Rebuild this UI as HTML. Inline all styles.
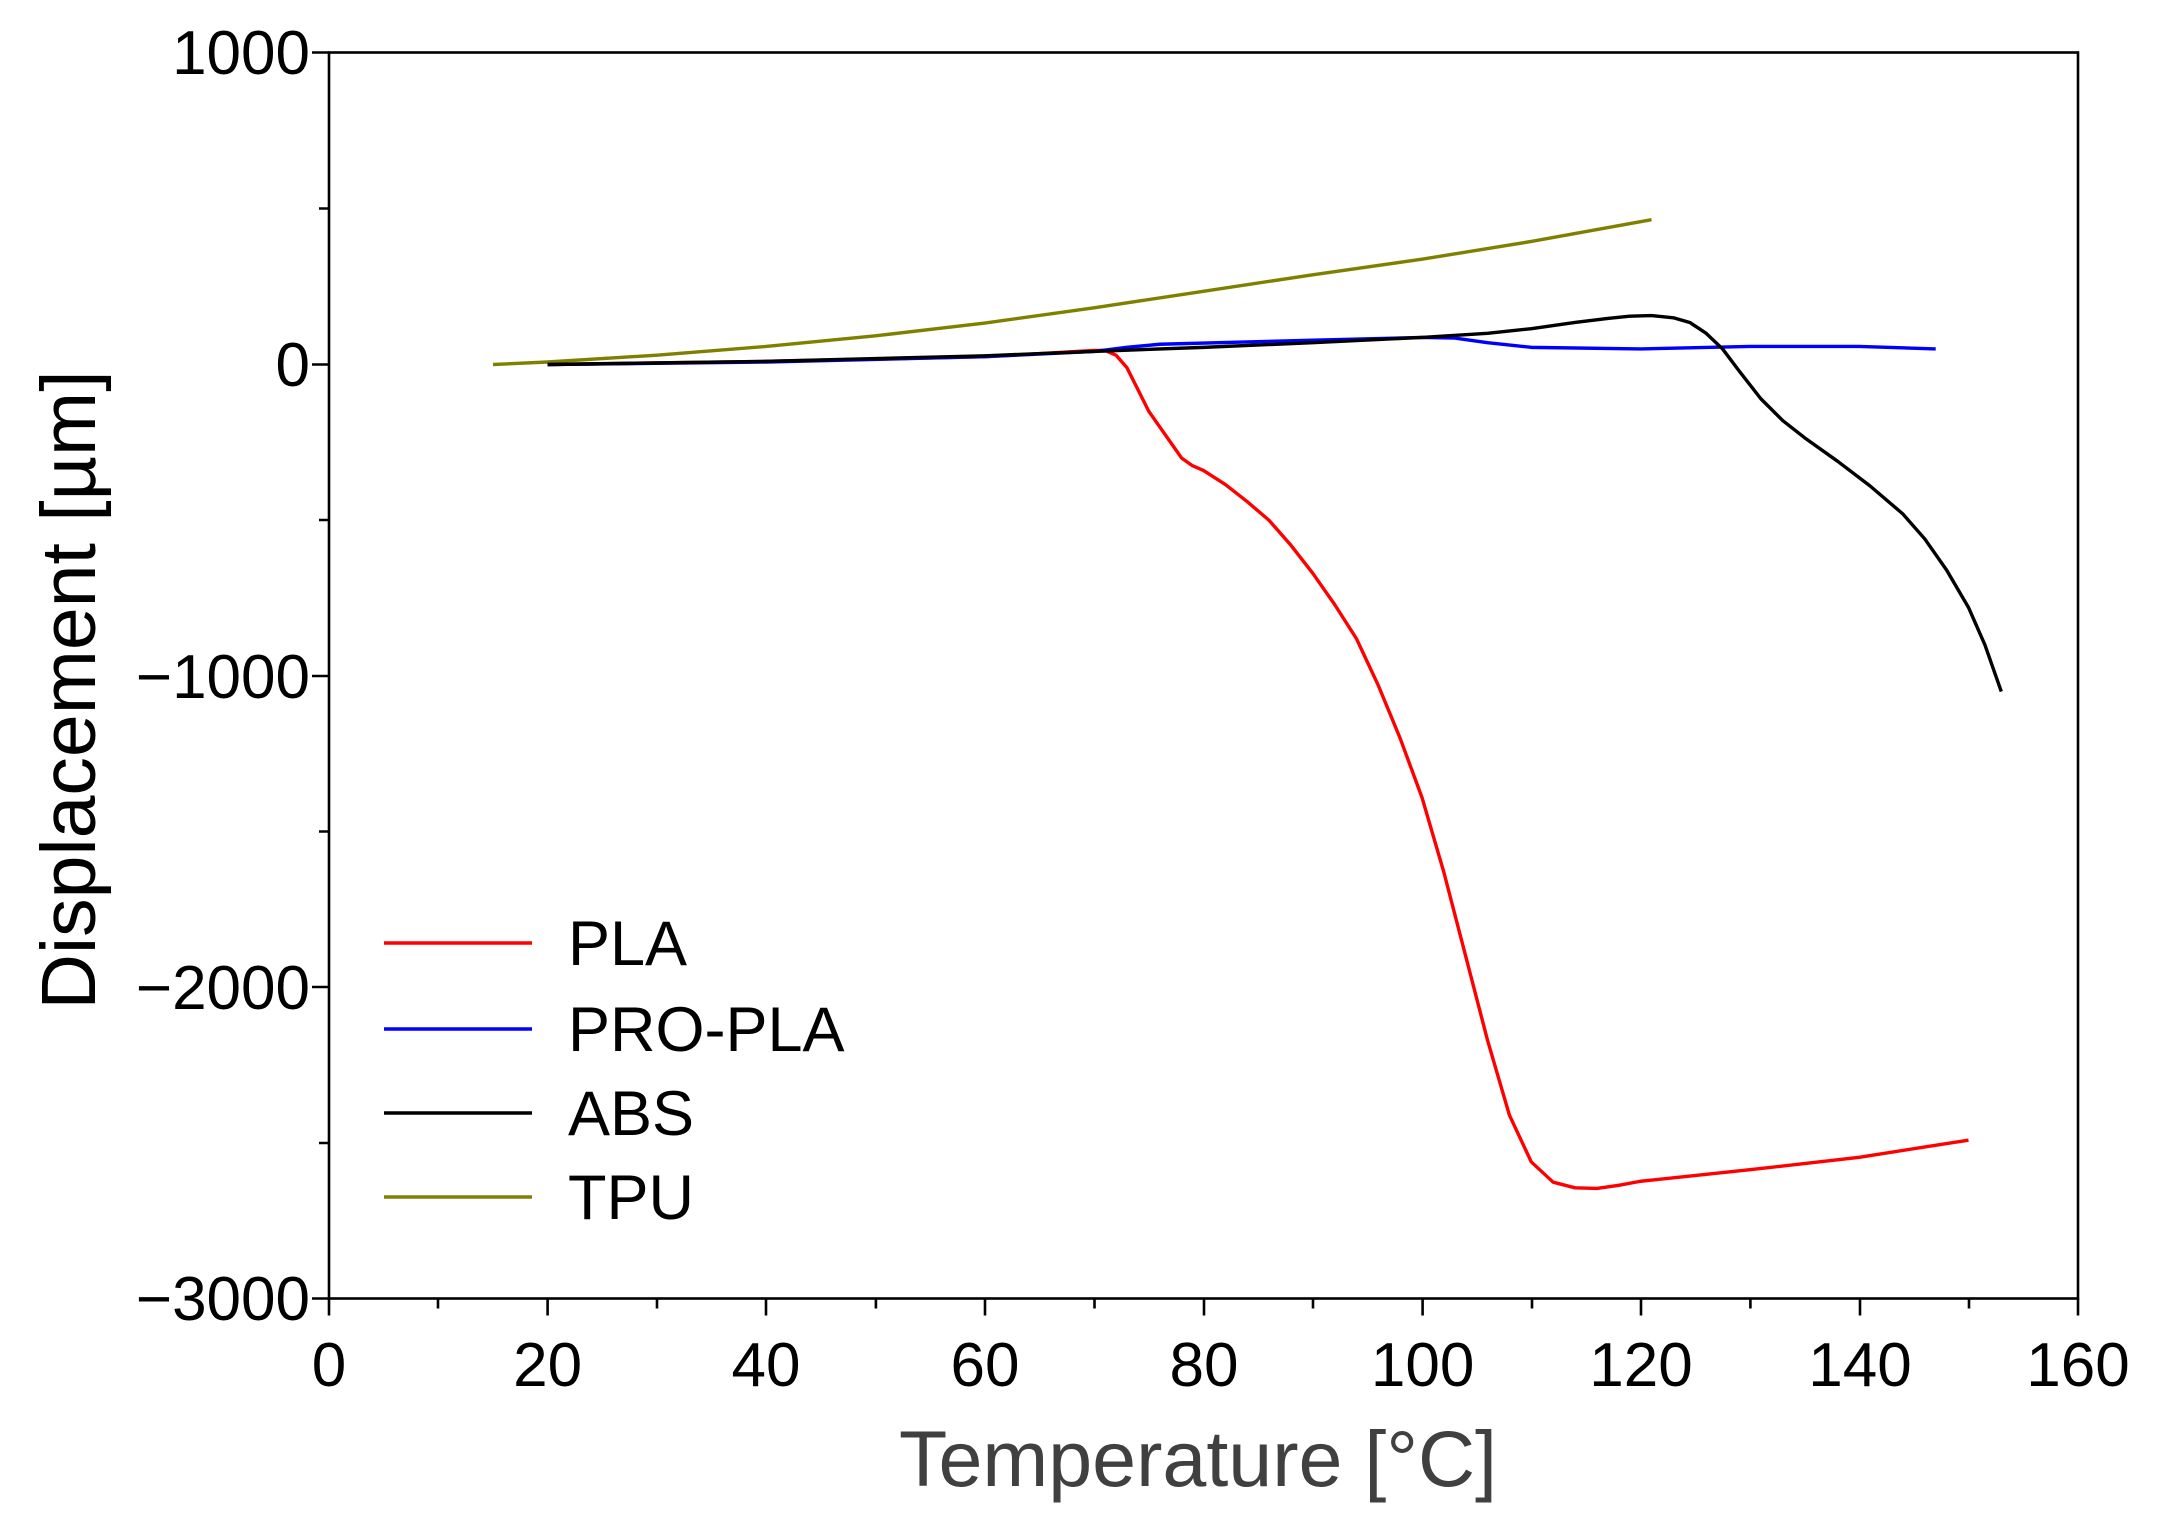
<!DOCTYPE html>
<html><head><style>html,body{margin:0;padding:0;background:#fff}</style></head><body>
<svg width="2165" height="1528" viewBox="0 0 2165 1528" xmlns="http://www.w3.org/2000/svg" font-family="Liberation Sans, Arial, sans-serif">
<rect width="2165" height="1528" fill="#fff"/>
<g transform="translate(329,364.5) scale(10.93,-0.3115)" fill="none" stroke-width="3.4" stroke-linejoin="round">
<polyline vector-effect="non-scaling-stroke" stroke="#808000" points="15,0 20,8 30,30 40,58 50,92 60,133 70,182 80,235 90,288 100,338 110,395 121,465"/>
<polyline vector-effect="non-scaling-stroke" stroke="#ff0000" points="20,0 40,10 60,25 70,45 71,45 72,30 73,-10 74,-80 75,-150 76,-200 77,-250 78,-300 79,-325 80,-340 82,-385 84,-440 86,-500 88,-580 90,-670 92,-770 94,-880 96,-1030 98,-1200 100,-1390 102,-1630 104,-1900 106,-2170 108,-2410 110,-2560 112,-2625 114,-2643 116,-2645 118,-2635 120,-2622 130,-2585 140,-2545 150,-2490"/>
<polyline vector-effect="non-scaling-stroke" stroke="#0000ff" points="20,0 40,8 60,25 70,42 73,55 76,65 90,78 100,87 103,85 106,70 110,55 120,50 130,58 140,58 147,50"/>
<polyline vector-effect="non-scaling-stroke" stroke="#000000" points="20,0 40,10 60,28 70,42 80,55 90,70 100,87 106,100 110,115 114,135 117,148 119,155 121,157 123,150 124.5,135 126,100 127.5,50 129,-20 131,-110 133,-180 135,-235 138,-310 141,-390 144,-480 146,-560 148,-660 150,-780 151.5,-900 153,-1050"/>
</g>
<g stroke="#000" stroke-width="2.6" fill="none">
<rect x="329" y="52.5" width="1749" height="1246"/>
<path d="M329,1298.5v17 M438,1298.5v10 M547.6,1298.5v17 M657,1298.5v10 M766,1298.5v17 M875.9,1298.5v10 M985,1298.5v17 M1094.5,1298.5v10 M1204,1298.5v17 M1313,1298.5v10 M1422.6,1298.5v17 M1532,1298.5v10 M1641,1298.5v17 M1750.4,1298.5v10 M1860,1298.5v17 M1969,1298.5v10 M2078,1298.5v17"/>
<path d="M329,52.5h-17 M329,208.5h-10 M329,364.5h-17 M329,520h-10 M329,676h-17 M329,831.5h-10 M329,987h-17 M329,1143h-10 M329,1298.5h-17"/>
</g>
<g font-size="62" fill="#000" text-anchor="end">
<text x="310" y="74">1000</text>
<text x="310" y="386">0</text>
<text x="310" y="698">−1000</text>
<text x="310" y="1009">−2000</text>
<text x="310" y="1320">−3000</text>
</g>
<g font-size="62" fill="#000" text-anchor="middle">
<text x="329" y="1386">0</text><text x="547.6" y="1386">20</text><text x="766" y="1386">40</text><text x="985" y="1386">60</text><text x="1204" y="1386">80</text><text x="1422.6" y="1386">100</text><text x="1641" y="1386">120</text><text x="1860" y="1386">140</text><text x="2078" y="1386">160</text>
</g>
<text x="1198" y="1486" font-size="79" fill="#404040" text-anchor="middle">Temperature [°C]</text>
<text transform="translate(95,690) rotate(-90)" font-size="77" fill="#000" text-anchor="middle">Displacement [µm]</text>
<g stroke-width="3.4">
<line x1="384" y1="943" x2="532" y2="943" stroke="#ff0000"/>
<line x1="384" y1="1029" x2="532" y2="1029" stroke="#0000ff"/>
<line x1="384" y1="1113" x2="532" y2="1113" stroke="#000"/>
<line x1="384" y1="1197" x2="532" y2="1197" stroke="#808000"/>
</g>
<g font-size="63" fill="#000">
<text x="568" y="965">PLA</text>
<text x="568" y="1051">PRO-PLA</text>
<text x="568" y="1135">ABS</text>
<text x="568" y="1219">TPU</text>
</g>
</svg>
</body></html>
